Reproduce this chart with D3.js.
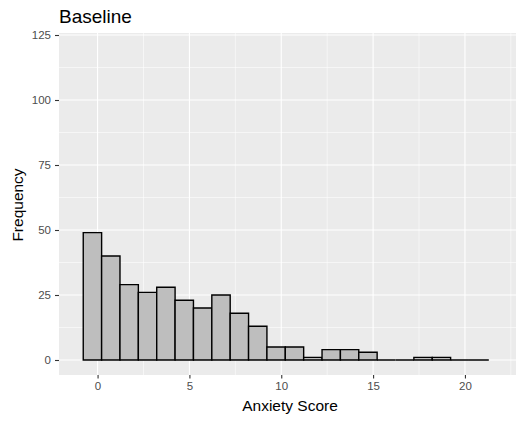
<!DOCTYPE html>
<html><head><meta charset="utf-8">
<script src="https://cdn.jsdelivr.net/npm/d3@7"></script>
<style>body{margin:0;background:#fff}svg{display:block}text{font-family:"Liberation Sans",Arial,sans-serif}</style>
</head><body>
<script>
const title = "Baseline";
const xLabel = "Anxiety Score";
const yLabel = "Frequency";
const binLower = [-0.78,0.22,1.22,2.22,3.22,4.22,5.22,6.22,7.22,8.22,9.22,10.22,11.22,12.22,13.22,14.22,15.22,16.22,17.22,18.22,19.22,20.22];
const binUpper = [0.22,1.22,2.22,3.22,4.22,5.22,6.22,7.22,8.22,9.22,10.22,11.22,12.22,13.22,14.22,15.22,16.22,17.22,18.22,19.22,20.22,21.3];
const counts = [49,40,29,26,28,23,20,25,18,13,5,5,1,4,4,3,0,0,1,1,0,0];
const xTicks = [0,5,10,15,20];
const xMinor = [2.5,7.5,12.5,17.5,22.5];
const yTicks = [0,25,50,75,100,125];
const yMinor = [12.5,37.5,62.5,87.5,112.5];

const W = 520, H = 421;
const panel = {left:59, right:516, top:33, bottom:375};
const svg = d3.select("body").append("svg").attr("width",W).attr("height",H);
const x = d3.scaleLinear().domain([-2.1, 22.78]).range([panel.left, panel.right]);
const y = d3.scaleLinear().domain([-5.77, 125.77]).range([panel.bottom, panel.top]);

svg.append("rect").attr("x",panel.left).attr("y",panel.top)
  .attr("width",panel.right-panel.left).attr("height",panel.bottom-panel.top).attr("fill","#EBEBEB");

const g = svg.append("g");
g.selectAll(".ymin").data(yMinor).join("line")
  .attr("x1",panel.left).attr("x2",panel.right).attr("y1",d=>y(d)).attr("y2",d=>y(d))
  .attr("stroke","#fff").attr("stroke-width",0.55);
g.selectAll(".xmin").data(xMinor).join("line")
  .attr("y1",panel.top).attr("y2",panel.bottom).attr("x1",d=>x(d)).attr("x2",d=>x(d))
  .attr("stroke","#fff").attr("stroke-width",0.55);
g.selectAll(".ymaj").data(yTicks).join("line")
  .attr("x1",panel.left).attr("x2",panel.right).attr("y1",d=>y(d)).attr("y2",d=>y(d))
  .attr("stroke","#fff").attr("stroke-width",1.1);
g.selectAll(".xmaj").data(xTicks).join("line")
  .attr("y1",panel.top).attr("y2",panel.bottom).attr("x1",d=>x(d)).attr("x2",d=>x(d))
  .attr("stroke","#fff").attr("stroke-width",1.1);

const bins = counts.map((c,i)=>({c, x0:binLower[i], x1:binUpper[i]}));
svg.append("g").selectAll("path").data(bins).join("path")
  .attr("d",d=>{
    const p = d3.path();
    p.moveTo(x(d.x0), y(0)); p.lineTo(x(d.x1), y(0));
    p.lineTo(x(d.x1), y(d.c)); p.lineTo(x(d.x0), y(d.c)); p.closePath();
    return p.toString();
  })
  .attr("fill","#BEBEBE").attr("stroke","#000").attr("stroke-width",1.4).attr("stroke-linejoin","miter");

const xAxis = svg.append("g").attr("transform",`translate(0,${panel.bottom})`)
  .call(d3.axisBottom(x).tickValues(xTicks).tickSize(3.5).tickPadding(3.5));
const yAxis = svg.append("g").attr("transform",`translate(${panel.left},0)`)
  .call(d3.axisLeft(y).tickValues(yTicks).tickSize(4).tickPadding(4));
[xAxis,yAxis].forEach(a=>{
  a.select(".domain").remove();
  a.selectAll(".tick line").attr("stroke","#333").attr("stroke-width",1.1);
  a.selectAll(".tick text").attr("fill","#4D4D4D").style("font-size","11.5px").style("font-family",'"Liberation Sans",Arial,sans-serif');
});

svg.append("text").attr("x",panel.left).attr("y",23).text(title)
  .style("font-size","19px").attr("fill","#000");
svg.append("text").attr("x",290).attr("y",411).attr("text-anchor","middle")
  .text(xLabel).style("font-size","15.5px").attr("fill","#000");
svg.append("text").attr("transform",`translate(23,205) rotate(-90)`)
  .attr("text-anchor","middle").text(yLabel).style("font-size","15.5px").attr("fill","#000");
</script>
</body></html>
